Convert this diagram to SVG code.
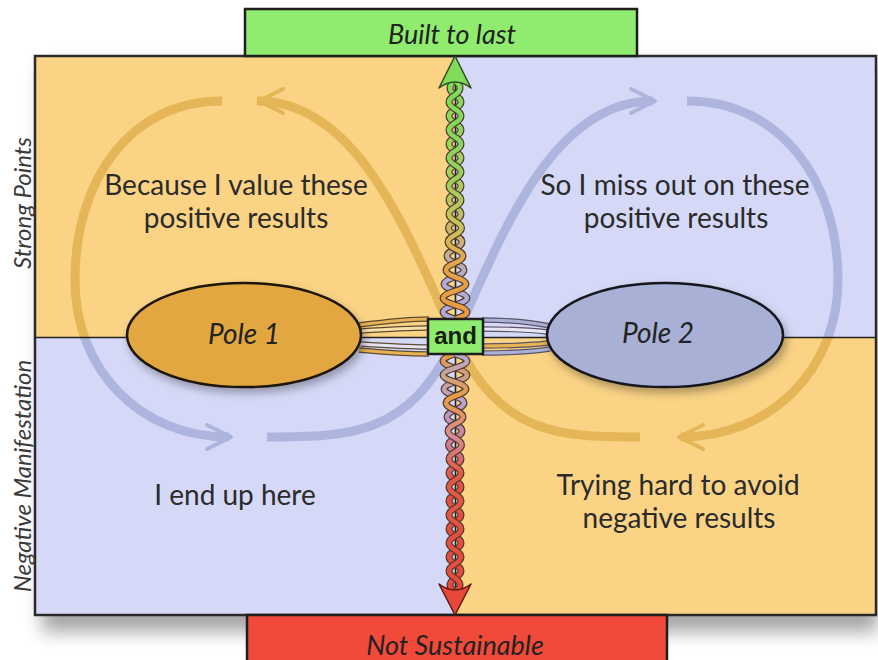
<svg xmlns="http://www.w3.org/2000/svg" xmlns:xlink="http://www.w3.org/1999/xlink" width="878" height="660" viewBox="0 0 878 660">
<defs>
<style>
.body{font-family:Lato,"Open Sans","Liberation Sans",sans-serif;font-size:28px;fill:#2b2b2b;text-anchor:middle}
.ital{font-family:Lato,"Open Sans","Liberation Sans",sans-serif;font-style:italic;fill:#222;text-anchor:middle}
.side{font-family:Lato,"Open Sans","Liberation Sans",sans-serif;font-style:italic;font-size:24px;fill:#3a3a3a;text-anchor:middle}
.band{fill:none;stroke-width:9;stroke-linecap:butt}
.chev{fill:none;stroke-width:4;stroke-linecap:round;stroke-linejoin:round}
.so{fill:none;stroke:#5e4a32;stroke-width:5.5}
.sl{fill:none;stroke:#5a5266;stroke-width:5.5}
.rope-o{fill:none;stroke:#4a3a30;stroke-width:7;stroke-linejoin:round}
.rope{fill:none;stroke-width:4.6;stroke-linejoin:round}
.div{stroke:#222;stroke-width:1.6;fill:none}
</style>
<filter id="shadow" x="-10%" y="-10%" width="130%" height="130%">
<feGaussianBlur stdDeviation="9"/>
</filter>
<filter id="eshadow" x="-20%" y="-30%" width="140%" height="170%">
<feDropShadow dx="3" dy="5" stdDeviation="4" flood-color="#000" flood-opacity="0.3"/>
</filter>
<clipPath id="clipO">
<rect x="35" y="56" width="420" height="282"/>
<rect x="455" y="338" width="421" height="277"/>
</clipPath>
<clipPath id="clipL">
<rect x="455" y="56" width="421" height="282"/>
<rect x="35" y="338" width="420" height="277"/>
</clipPath>
<g id="loopPaths">
<path class="band" d="M257,101 C360,101 410,240 455,338 C500,436 560,437 640,437"/>
<path class="band" d="M267,437 C350,437 410,436 455,338 C500,240 550,101 653,101"/>
<path class="band" d="M222,101 C130,101 75,180 75,280 C75,370 140,437 229,437"/>
<path class="band" d="M687,101 C780,101 838,180 838,280 C838,370 770,437 681,437"/>
<path class="chev" d="M283,89 L259,101 L283,113"/>
<path class="chev" d="M631,89 L655,101 L631,113"/>
<path class="chev" d="M703,425 L679,437 L703,449"/>
<path class="chev" d="M207,425 L231,437 L207,449"/>
</g>
<linearGradient id="gTopA" gradientUnits="userSpaceOnUse" x1="0" y1="81" x2="0" y2="319">
<stop offset="0" stop-color="#7edc58"/>
<stop offset="0.35" stop-color="#8fd25e"/>
<stop offset="0.6" stop-color="#c9c45a"/>
<stop offset="0.8" stop-color="#e8a048"/>
<stop offset="1" stop-color="#e89c40"/>
</linearGradient>
<linearGradient id="gTopB" gradientUnits="userSpaceOnUse" x1="0" y1="81" x2="0" y2="319">
<stop offset="0" stop-color="#7edc58"/>
<stop offset="0.4" stop-color="#a8d060"/>
<stop offset="0.65" stop-color="#d0b068"/>
<stop offset="0.85" stop-color="#b4aad8"/>
<stop offset="1" stop-color="#b0aad8"/>
</linearGradient>
<linearGradient id="gBotA" gradientUnits="userSpaceOnUse" x1="0" y1="354" x2="0" y2="592">
<stop offset="0" stop-color="#b0aad8"/>
<stop offset="0.18" stop-color="#e89a44"/>
<stop offset="0.35" stop-color="#d88898"/>
<stop offset="0.5" stop-color="#e45a44"/>
<stop offset="1" stop-color="#e8483a"/>
</linearGradient>
<linearGradient id="gBotB" gradientUnits="userSpaceOnUse" x1="0" y1="354" x2="0" y2="592">
<stop offset="0" stop-color="#e89a44"/>
<stop offset="0.2" stop-color="#b8a4d4"/>
<stop offset="0.38" stop-color="#d07a8c"/>
<stop offset="0.55" stop-color="#e55040"/>
<stop offset="1" stop-color="#e8483a"/>
</linearGradient>
<path id="topA" d="M455,319 q24,-7 0,-14 q-24,-7 0,-14 q22,-7 0,-14 q-18,-7 0,-14 q16,-7 0,-14 q-14,-7 0,-14 q13,-7 0,-14 q-12,-7 0,-14 q12,-7 0,-14 q-12,-7 0,-14 q12,-7 0,-14 q-12,-7 0,-14 q12,-7 0,-14 q-12,-7 0,-14 q12,-7 0,-14 q-12,-7 0,-14 q10,-7 0,-14"/>
<path id="topB" d="M455,319 q-24,-7 0,-14 q24,-7 0,-14 q-22,-7 0,-14 q18,-7 0,-14 q-16,-7 0,-14 q14,-7 0,-14 q-13,-7 0,-14 q12,-7 0,-14 q-12,-7 0,-14 q12,-7 0,-14 q-12,-7 0,-14 q12,-7 0,-14 q-12,-7 0,-14 q12,-7 0,-14 q-12,-7 0,-14 q12,-7 0,-14 q-10,-7 0,-14"/>
<path id="botA" d="M455,354 q24,7 0,14 q-24,7 0,14 q22,7 0,14 q-18,7 0,14 q16,7 0,14 q-14,7 0,14 q13,7 0,14 q-12,7 0,14 q12,7 0,14 q-12,7 0,14 q12,7 0,14 q-12,7 0,14 q12,7 0,14 q-12,7 0,14 q12,7 0,14 q-12,7 0,14 q10,7 0,14"/>
<path id="botB" d="M455,354 q-24,7 0,14 q24,7 0,14 q-22,7 0,14 q18,7 0,14 q-16,7 0,14 q14,7 0,14 q-13,7 0,14 q12,7 0,14 q-12,7 0,14 q12,7 0,14 q-12,7 0,14 q12,7 0,14 q-12,7 0,14 q12,7 0,14 q-12,7 0,14 q12,7 0,14 q-10,7 0,14"/>
</defs>

<rect x="0" y="0" width="878" height="660" fill="#ffffff"/>

<!-- frame shadow -->
<rect x="42" y="66" width="836" height="566" fill="#000" opacity="0.35" filter="url(#shadow)"/>

<g id="quadrants">
<rect x="35" y="56" width="420" height="282" fill="#fad385"/>
<rect x="455" y="56" width="421" height="282" fill="#d5d9f7"/>
<rect x="35" y="338" width="420" height="277" fill="#d5d9f7"/>
<rect x="455" y="338" width="421" height="277" fill="#fad385"/>
<rect x="35" y="56" width="841" height="559" fill="none" stroke="#2a2a2a" stroke-width="2.5"/>
</g>

<g id="built-to-last">
<rect x="245" y="9" width="392" height="47" fill="#8fec6e" stroke="#1e1e1e" stroke-width="2.5"/>
<text class="ital" x="452" y="44" font-size="27">Built to last</text>
</g>

<g id="not-sustainable">
<rect x="247" y="615" width="420" height="50" fill="#f24a3a" stroke="#1e1e1e" stroke-width="2.5"/>
<text class="ital" x="455" y="655" font-size="27">Not Sustainable</text>
</g>

<g id="loop" opacity="0.85">
<use xlink:href="#loopPaths" href="#loopPaths" stroke="#e2b14f" clip-path="url(#clipO)"/>
<use xlink:href="#loopPaths" href="#loopPaths" stroke="#a7aed9" clip-path="url(#clipL)"/>
</g>

<g id="dividers">
<line class="div" x1="35" y1="337.5" x2="876" y2="337.5"/>
<line class="div" x1="455.5" y1="56" x2="455.5" y2="615"/>
</g>

<g id="connectors">
<!-- strands pole1 to and -->
<path class="so" d="M359,325 C390,321 410,319 429,319"/>
<path class="so" d="M361,331 C390,329 410,328 429,328"/>
<path class="so" d="M361,344 C390,346 410,347 429,347"/>
<path class="so" d="M359,350 C390,353 410,354 429,354"/>
<path fill="none" stroke="#e8b352" stroke-width="3.2" d="M359,325 C390,321 410,319 429,319"/>
<path fill="none" stroke="#f6dfa8" stroke-width="3.2" d="M361,331 C390,329 410,328 429,328"/>
<path fill="none" stroke="#e6e4f0" stroke-width="3.2" d="M361,344 C390,346 410,347 429,347"/>
<path fill="none" stroke="#e8b352" stroke-width="3.2" d="M359,350 C390,353 410,354 429,354"/>
<!-- strands and to pole2 -->
<path class="sl" d="M482,320 C510,320 530,322 550,326"/>
<path class="sl" d="M482,329 C510,329 530,330 548,332"/>
<path class="sl" d="M482,346 C510,346 530,345 548,343"/>
<path class="sl" d="M482,353 C510,353 530,352 550,349"/>
<path fill="none" stroke="#aab0d8" stroke-width="3.2" d="M482,320 C510,320 530,322 550,326"/>
<path fill="none" stroke="#e6e6f4" stroke-width="3.2" d="M482,329 C510,329 530,330 548,332"/>
<path fill="none" stroke="#e8b352" stroke-width="3.2" d="M482,346 C510,346 530,345 548,343"/>
<path fill="none" stroke="#aab0d8" stroke-width="3.2" d="M482,353 C510,353 530,352 550,349"/>

<!-- twisted rope up -->
<use xlink:href="#topB" href="#topB" class="rope-o"/>
<use xlink:href="#topB" href="#topB" class="rope" stroke="url(#gTopB)"/>
<use xlink:href="#topA" href="#topA" class="rope-o"/>
<use xlink:href="#topA" href="#topA" class="rope" stroke="url(#gTopA)"/>
<path d="M455,56 L439,88 Q455,76 471,88 Z" fill="#80dc58" stroke="#2e4a20" stroke-width="1.5" stroke-linejoin="round"/>

<!-- twisted rope down -->
<use xlink:href="#botB" href="#botB" class="rope-o"/>
<use xlink:href="#botB" href="#botB" class="rope" stroke="url(#gBotB)"/>
<use xlink:href="#botA" href="#botA" class="rope-o"/>
<use xlink:href="#botA" href="#botA" class="rope" stroke="url(#gBotA)"/>
<path d="M455,615 L439,584 Q455,596 471,584 Z" fill="#e8483a" stroke="#5a1a10" stroke-width="1.5" stroke-linejoin="round"/>
</g>

<g id="pole1">
<ellipse cx="244" cy="335" rx="117" ry="52" fill="#e2a73f" stroke="#1e1408" stroke-width="2.5" filter="url(#eshadow)"/>
<text class="ital" x="244" y="344" font-size="28">Pole 1</text>
</g>

<g id="pole2">
<ellipse cx="665" cy="335" rx="118" ry="52" fill="#a9b0d6" stroke="#14161e" stroke-width="2.5" filter="url(#eshadow)"/>
<text class="ital" x="658" y="343" font-size="28">Pole 2</text>
</g>

<g id="and">
<rect x="428" y="319" width="55" height="35" fill="#8fec6e" stroke="#1e1e1e" stroke-width="2.5"/>
<text x="455.5" y="344" font-family="'Liberation Sans',Arial,sans-serif" font-weight="bold" font-size="24" fill="#142010" text-anchor="middle">and</text>
</g>

<g id="labels">
<text class="body" x="236" y="195">Because I value these</text>
<text class="body" x="236" y="228">positive results</text>
<text class="body" x="675" y="195">So I miss out on these</text>
<text class="body" x="676" y="228">positive results</text>
<text class="body" x="235" y="505">I end up here</text>
<text class="body" x="678" y="495">Trying hard to avoid</text>
<text class="body" x="679" y="528">negative results</text>
<text class="side" transform="translate(31,203) rotate(-90)">Strong Points</text>
<text class="side" transform="translate(31,476) rotate(-90)">Negative Manifestation</text>
</g>
</svg>
